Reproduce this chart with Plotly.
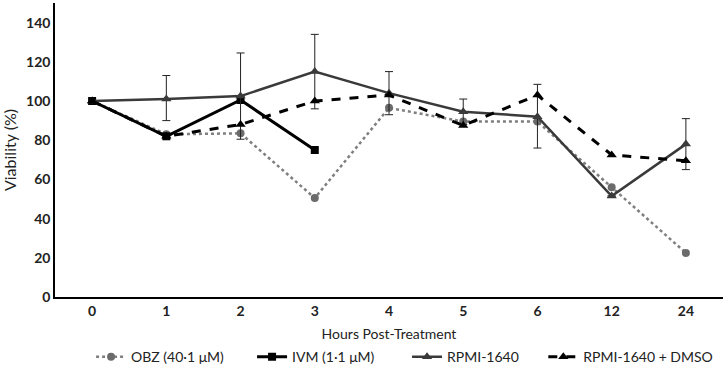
import plotly.graph_objects as go

hours = ["0", "1", "2", "3", "4", "5", "6", "12", "24"]

obz = [100, 83, 83.5, 50.5, 96.5, 89.5, 89.5, 56, 22.5]
ivm = [100, 82, 100.5, 75, None, None, None, None, None]
rpmi = [100, 101, 102.5, 115, 104, 94.5, 92, 51.5, 78]
rpmi_err_plus = [0, 12, 22, 19, 11, 6.5, 16.5, 0, 13]
rpmi_err_minus = [0, 11, 22, 19, 11, 6.5, 16, 0, 13]
dmso = [100, 82, 88, 100, 103, 87.5, 103, 72.5, 69.5]

fig = go.Figure()

fig.add_trace(go.Scatter(
    x=hours, y=obz, name="OBZ (40·1 μM)", mode="lines+markers", legend="legend",
    line=dict(color="#7f7f7f", width=2.5, dash="dot"),
    marker=dict(symbol="circle", size=8, color="#6b6b6b"),
))
fig.add_trace(go.Scatter(
    x=hours, y=ivm, name="IVM (1·1 μM)", mode="lines+markers", legend="legend2",
    line=dict(color="#000000", width=3),
    marker=dict(symbol="square", size=8, color="#000000"),
))
fig.add_trace(go.Scatter(
    x=hours, y=rpmi, name="RPMI-1640", mode="lines+markers", legend="legend3",
    line=dict(color="#3a3a3a", width=2.5),
    marker=dict(symbol="triangle-up", size=9, color="#3a3a3a"),
    error_y=dict(type="data", symmetric=False, array=rpmi_err_plus,
                 arrayminus=rpmi_err_minus, color="#222222", thickness=1, width=4),
))
fig.add_trace(go.Scatter(
    x=hours, y=dmso, name="RPMI-1640 + DMSO", mode="lines+markers", legend="legend4",
    line=dict(color="#000000", width=3, dash="dash"),
    marker=dict(symbol="triangle-up", size=9, color="#000000"),
))

font_family = "Lato, Open Sans, sans-serif"


def leg(xpos):
    return dict(orientation="h", x=xpos, xanchor="left", y=-0.205, yanchor="middle",
                font=dict(size=14, family=font_family), itemwidth=30,
                bgcolor="rgba(0,0,0,0)")


fig.update_layout(
    width=725, height=372,
    margin=dict(l=55, r=2, t=3, b=75, autoexpand=False),
    paper_bgcolor="white", plot_bgcolor="white",
    font=dict(family=font_family, color="#222222", size=13),
    showlegend=True,
    legend=leg(0.054),
    legend2=leg(0.295),
    legend3=leg(0.527),
    legend4=leg(0.731),
    xaxis=dict(
        type="category", range=[-0.5, 8.5], automargin=False,
        showline=True, linecolor="#000000", linewidth=1.5,
        showgrid=False, zeroline=False, ticks="",
        tickfont=dict(size=14, family=font_family, color="#222222", weight="bold"),
        title=dict(text="Hours Post-Treatment", font=dict(size=14, family=font_family),
                   standoff=12),
    ),
    yaxis=dict(
        range=[0, 150], tickvals=[0, 20, 40, 60, 80, 100, 120, 140],
        showline=True, linecolor="#000000", linewidth=1.5,
        showgrid=False, zeroline=False, ticks="", automargin=False,
        tickfont=dict(size=14, family=font_family, color="#222222", weight="bold"),
        title=dict(text="Viability (%)", font=dict(size=16, family=font_family),
                   standoff=8),
    ),
)

fig.write_html("out.html", config={"displayModeBar": False})

# remove the browser's default page margin so the figure sits at the window's corner
with open("out.html", "r", encoding="utf-8") as f:
    html = f.read()
html = html.replace("<head>", "<head><style>html,body{margin:0;padding:0;}</style>", 1)
with open("out.html", "w", encoding="utf-8") as f:
    f.write(html)
